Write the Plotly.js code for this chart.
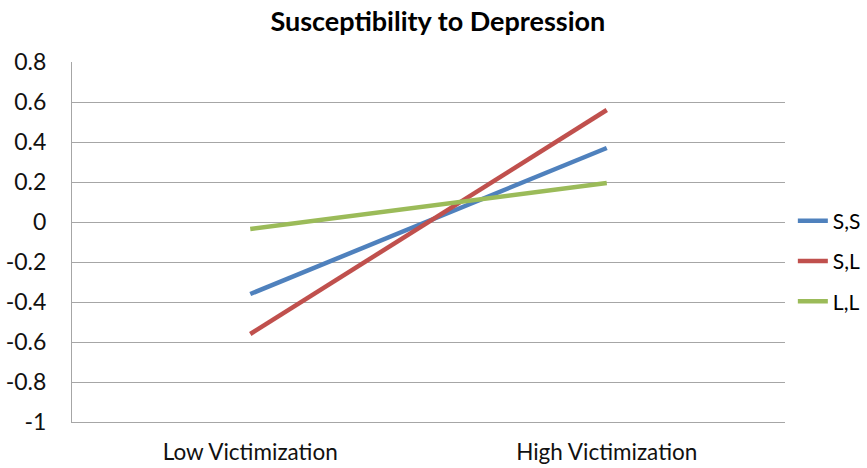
<!DOCTYPE html>
<html>
<head>
<meta charset="utf-8">
<script src="https://cdn.plot.ly/plotly-3.0.1.min.js"></script>
<style>html,body{margin:0;padding:0;background:#fff;}#chart{width:867px;height:468px;}</style>
</head>
<body>
<div id="chart"></div>
<script>
const categories = ["Low Victimization", "High Victimization"];
const seriesNames = ["S,S", "S,L", "L,L"];
const ssValues = [-0.36, 0.37];
const slValues = [-0.56, 0.56];
const llValues = [-0.035, 0.195];
const colors = ["#4F81BD", "#C0504D", "#9BBB59"];
const yTicks = [0.8, 0.6, 0.4, 0.2, 0, -0.2, -0.4, -0.6, -0.8, -1];

const allValues = [ssValues, slValues, llValues];
const traces = allValues.map((vals, i) => ({
  type: "scatter",
  mode: "lines",
  x: categories,
  y: vals,
  name: seriesNames[i],
  legendgroup: "g" + i,
  line: {color: colors[i], width: 4.5}
}));

const FONT = "Lato, Open Sans, sans-serif";
const layout = {
  width: 867, height: 468,
  margin: {l: 72, r: 82, t: 62, b: 46, autoexpand: false},
  paper_bgcolor: "#fff", plot_bgcolor: "#fff",
  font: {family: FONT, size: 22, color: "#000"},
  title: {text: "<b>Susceptibility to Depression</b>", x: 0.505, xanchor: "center", y: 0.953, yanchor: "middle",
          font: {family: FONT, size: 27, color: "#000"}},
  xaxis: {type: "category", range: [-0.5, 1.5], showgrid: false, zeroline: false,
          showline: true, linecolor: "#a6a6a6", linewidth: 1, ticks: "", tickfont: {size: 22.5, color: "#111"},
          ticklabelstandoff: 10, automargin: false},
  yaxis: {range: [-1, 0.8], tickvals: yTicks, ticktext: yTicks.map(String),
          showgrid: true, gridcolor: "#a6a6a6", gridwidth: 1, zeroline: false,
          showline: true, linecolor: "#a6a6a6", linewidth: 1, ticks: "", ticklen: 0,
          tickfont: {size: 23, color: "#111"}, ticklabelstandoff: 20, automargin: false},
  legend: {x: 1.011, xanchor: "left", y: 0.447, yanchor: "middle", font: {size: 21},
           itemwidth: 30, tracegroupgap: 10, bgcolor: "rgba(0,0,0,0)"},
  showlegend: true
};

Plotly.newPlot("chart", traces, layout, {displayModeBar: false, staticPlot: true});
</script>
</body>
</html>
